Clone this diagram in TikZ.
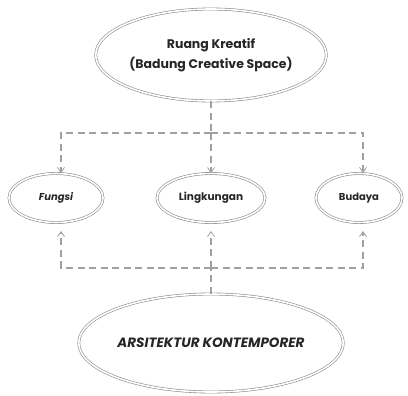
\documentclass[tikz,border=0pt]{standalone}
\usepackage{fontspec}
\setmainfont{Poppins}
\usetikzlibrary{shapes.geometric,arrows.meta}
\definecolor{linegray}{HTML}{A0A0A0}
\definecolor{ringgray}{HTML}{8C8C8C}
\begin{document}
\begin{tikzpicture}[x=1pt,y=-1pt,
  ring/.style={ellipse, draw=ringgray, line width=0.6pt, double=white, double distance=1.6pt, inner sep=0pt, align=center, text=black!85},
  link/.style={draw=linegray, line width=1.1pt, dash pattern=on 7pt off 4.5pt},
  arr/.style={link, -{Straight Barb[length=5pt,width=7pt,line width=0.8pt]}}]
\useasboundingbox (0,0) rectangle (408,396);
\node[ring, minimum width=213pt, minimum height=92pt, font=\fontsize{12.5}{20}\selectfont\bfseries] (top) at (211,55) {Ruang Kreatif\\(Badung Creative Space)};
\node[ring, minimum width=94pt, minimum height=49pt, font=\fontsize{10}{12}\selectfont\bfseries\itshape] (fungsi) at (56,198) {Fungsi};
\node[ring, minimum width=108pt, minimum height=49pt, font=\fontsize{10.5}{12}\selectfont\bfseries] (lingk) at (211,198) {Lingkungan};
\node[ring, minimum width=86pt, minimum height=49pt, font=\fontsize{10}{12}\selectfont\bfseries] (budaya) at (359,198) {Budaya};
\node[ring, minimum width=212pt, minimum height=98pt, font=\fontsize{13.5}{16}\selectfont\bfseries\itshape] (bottom) at (211,343) {ARSITEKTUR KONTEMPORER};
\coordinate (j1) at (211,133);
\coordinate (j2) at (211,268);
\coordinate (fa) at (61,173);
\coordinate (ba) at (363,173);
\coordinate (fb) at (61,231);
\coordinate (bb) at (363,231);
\coordinate (lb) at (211,231);
\path[link] (top.south) -- (j1);
\path[arr] (j1) -| (fa);
\path[arr] (j1) -| (ba);
\path[arr] (j1) -- (lingk.north);
\path[link] (bottom.north) -- (j2);
\path[arr] (j2) -| (fb);
\path[arr] (j2) -| (bb);
\path[arr] (j2) -- (lb);
\end{tikzpicture}
\end{document}
